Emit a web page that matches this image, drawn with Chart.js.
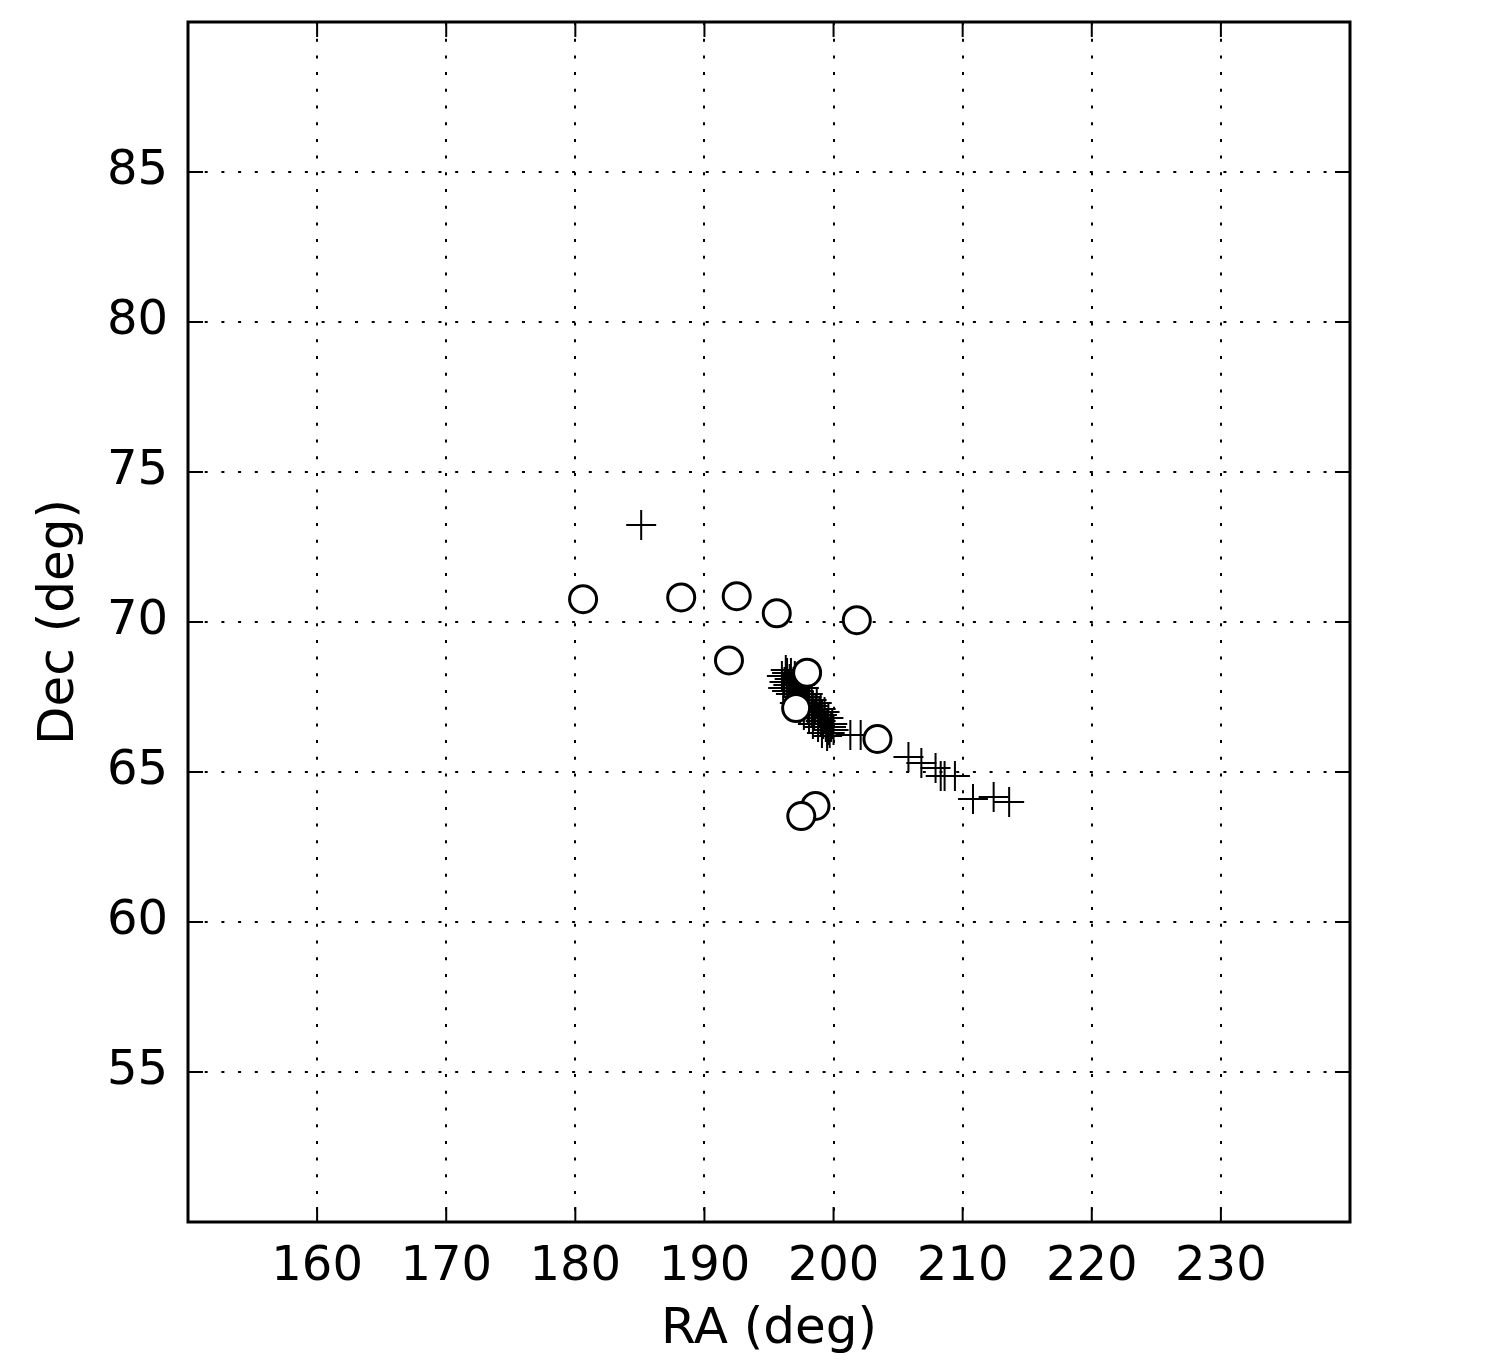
<!DOCTYPE html>
<html>
<head>
    <title>RA / Dec</title>
    <script src="https://cdn.jsdelivr.net/npm/chart.js"></script>
    <style>
        body { margin: 0; background: #ffffff; }
        #wrap { width: 1500px; height: 1372px; }
    </style>
</head>
<body>
    <div id="wrap"><canvas id="radec"></canvas></div>

    <script>
        // axis ticks
        const xTicks = [160, 170, 180, 190, 200, 210, 220, 230];
        const yTicks = [55, 60, 65, 70, 75, 80, 85];

        // open circles
        const circleRA  = [180.6, 188.2, 192.5, 195.6, 201.8, 191.9, 197.95, 197.1, 203.4, 198.6, 197.5];
        const circleDec = [70.76, 70.82, 70.86, 70.29, 70.06, 68.72, 68.31, 67.13, 66.1, 63.87, 63.53];

        // crosses (dense clump near 197,67 then a tail to the south-east)
        const crossRA = [185.1,
            196.0, 196.2, 196.4, 196.5, 196.6, 196.8, 196.9, 197.0, 197.1, 197.2,
            197.3, 197.5, 197.6, 197.8, 197.9, 198.0, 198.1, 198.3, 198.4, 198.5,
            198.6, 198.8, 198.9, 199.0, 199.1, 199.2, 199.3, 199.4, 199.5, 199.6,
            199.7, 199.8,
            196.3, 196.7, 197.0, 196.1, 196.4, 196.7, 197.4, 197.7, 197.0, 197.4,
            198.0, 198.3, 197.7, 198.1, 198.7, 199.0, 198.4, 198.8, 199.3, 199.6,
            199.1, 199.5, 199.9, 200.0,
            201.3, 202.1, 205.8, 206.8, 207.9, 208.3, 208.6, 209.4, 210.8, 212.4, 213.6];
        const crossDec = [73.23,
            68.2, 68.0, 68.3, 67.9, 68.1, 67.8, 68.0, 67.6, 67.9, 67.5,
            67.7, 67.4, 67.6, 67.3, 67.5, 67.1, 67.3, 67.0, 67.2, 66.9,
            67.1, 66.8, 67.0, 66.7, 66.9, 66.6, 66.8, 66.5, 66.6, 66.4,
            66.3, 66.5,
            68.4, 68.3, 68.2, 67.8, 67.7, 67.6, 67.9, 67.8, 67.3, 67.1,
            67.6, 67.4, 66.9, 66.8, 67.3, 67.1, 66.6, 66.5, 67.0, 66.8,
            66.3, 66.2, 66.6, 66.4,
            66.23, 66.23, 65.5, 65.3, 65.13, 64.87, 64.87, 64.87, 64.1, 64.17, 64.0];

        const toPoints = (xs, ys) => xs.map((x, i) => ({x: x, y: ys[i]}));

        const tickFont = {family: 'DejaVu Sans', size: 48};
        const titleFont = {family: 'DejaVu Sans', size: 50};

        // frame + inward ticks on all four sides
        const framePlugin = {
            id: 'frame',
            afterDraw(chart) {
                const {ctx, chartArea: a, scales: {x, y}} = chart;
                const len = 15;
                ctx.save();
                ctx.strokeStyle = '#000';
                ctx.lineWidth = 2;
                ctx.beginPath();
                xTicks.forEach(v => {
                    const px = x.getPixelForValue(v);
                    ctx.moveTo(px, a.bottom); ctx.lineTo(px, a.bottom - len);
                    ctx.moveTo(px, a.top); ctx.lineTo(px, a.top + len);
                });
                yTicks.forEach(v => {
                    const py = y.getPixelForValue(v);
                    ctx.moveTo(a.left, py); ctx.lineTo(a.left + len, py);
                    ctx.moveTo(a.right, py); ctx.lineTo(a.right - len, py);
                });
                ctx.stroke();
                ctx.lineWidth = 3;
                ctx.strokeRect(a.left, a.top, a.right - a.left, a.bottom - a.top);
                ctx.restore();
            }
        };

        new Chart(document.getElementById('radec'), {
            type: 'scatter',
            data: {
                datasets: [
                    {
                        label: 'circles',
                        data: toPoints(circleRA, circleDec),
                        pointStyle: 'circle',
                        pointRadius: 13.5,
                        pointHoverRadius: 13.5,
                        borderWidth: 3,
                        borderColor: '#000',
                        backgroundColor: '#fff'
                    },
                    {
                        label: 'crosses',
                        data: toPoints(crossRA, crossDec),
                        pointStyle: 'cross',
                        pointRadius: 15,
                        pointHoverRadius: 15,
                        borderWidth: 2,
                        borderColor: '#000',
                        backgroundColor: '#000'
                    }
                ]
            },
            options: {
                responsive: true,
                maintainAspectRatio: false,
                animation: false,
                layout: {padding: {top: 22, right: 150, left: 0, bottom: 0}},
                plugins: {
                    legend: {display: false},
                    tooltip: {enabled: false}
                },
                scales: {
                    x: {
                        type: 'linear',
                        min: 150, max: 240,
                        afterFit: s => { s.height = 150; s.paddingLeft = 0; s.paddingRight = 0; },
                        afterBuildTicks: s => { s.ticks = xTicks.map(v => ({value: v})); },
                        ticks: {color: '#000', font: tickFont, padding: 17, maxRotation: 0},
                        grid: {color: '#000', lineWidth: 2, drawTicks: false},
                        border: {display: false, dash: [3, 13.7]},
                        title: {display: true, text: 'RA (deg)', color: '#000', font: titleFont,
                                padding: {top: 0, bottom: 12}}
                    },
                    y: {
                        type: 'linear',
                        min: 50, max: 90,
                        afterFit: s => { s.width = 188; s.paddingTop = 0; s.paddingBottom = 0; },
                        afterBuildTicks: s => { s.ticks = yTicks.map(v => ({value: v})); },
                        ticks: {color: '#000', font: tickFont, padding: 20},
                        grid: {color: '#000', lineWidth: 2, drawTicks: false},
                        border: {display: false, dash: [3, 13.7]},
                        title: {display: true, text: 'Dec (deg)', color: '#000', font: titleFont,
                                padding: {top: 30, bottom: 0}}
                    }
                }
            },
            plugins: [framePlugin]
        });
    </script>
</body>
</html>
